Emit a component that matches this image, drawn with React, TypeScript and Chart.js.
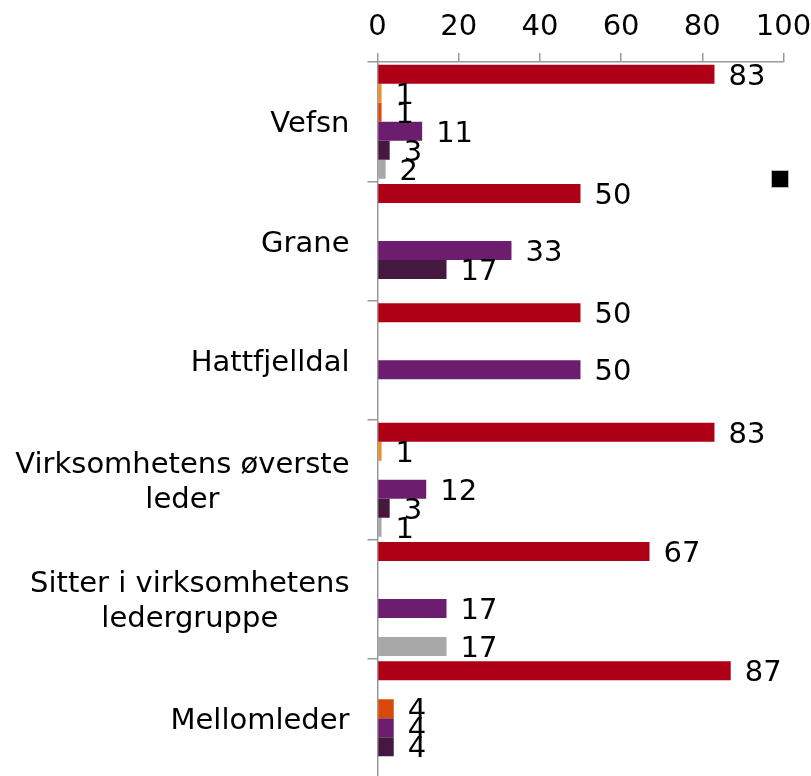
import React, { useEffect, useRef } from "react";
import { Chart, registerables } from "chart.js";

Chart.register(...registerables);

const categories: (string | string[])[] = [
  "Vefsn",
  "Grane",
  "Hattfjelldal",
  ["Virksomhetens øverste", "leder"],
  ["Sitter i virksomhetens", "ledergruppe"],
  "Mellomleder",
];

const seriesRed = [83, 50, 50, 83, 67, 87];
const seriesOrange = [1, null, null, 1, null, null];
const seriesOrangeRed = [1, null, null, null, null, 4];
const seriesPurple = [11, 33, 50, 12, 17, 4];
const seriesDarkPurple = [3, 17, null, 3, null, 4];
const seriesGray = [2, null, null, 1, 17, null];

const seriesColors = ["#AD0016", "#E8902A", "#D84A0C", "#6C1D6E", "#44183F", "#A8A8A8"];
const xTicks = [0, 20, 40, 60, 80, 100];

const FONT = "'DejaVu Sans', Verdana, sans-serif";
const FONT_SIZE = 29;

const labelsPlugin = {
  id: "customLabels",
  afterDatasetsDraw(chart: any) {
    const ctx = chart.ctx;
    ctx.save();
    ctx.font = `${FONT_SIZE}px ${FONT}`;
    ctx.fillStyle = "#000";
    ctx.textBaseline = "middle";
    ctx.textAlign = "left";
    chart.data.datasets.forEach((ds: any, di: number) => {
      const meta = chart.getDatasetMeta(di);
      meta.data.forEach((bar: any, i: number) => {
        const v = ds.data[i];
        if (v === null || v === undefined) return;
        ctx.fillText(String(v), bar.x + 14, bar.y + 3);
      });
    });
    // category labels: block right-aligned, lines centered within block
    const yScale = chart.scales.y;
    const rightEdge = chart.chartArea.left - 28;
    const lineH = 35;
    ctx.fillStyle = "#000";
    categories.forEach((c, i) => {
      const lines = Array.isArray(c) ? c : [c];
      const w = Math.max(...lines.map((l) => ctx.measureText(l).width));
      const cx = rightEdge - w / 2;
      const cy = yScale.getPixelForValue(i) + 3;
      ctx.textAlign = "center";
      lines.forEach((l, li) => {
        const y = cy + (li - (lines.length - 1) / 2) * lineH;
        ctx.fillText(l, cx, y);
      });
    });
    // legend marker
    ctx.fillStyle = "#000";
    ctx.strokeStyle = "#bbb";
    ctx.lineWidth = 1;
    ctx.fillRect(772, 171, 16, 16);
    ctx.strokeRect(771.5, 170.5, 17, 17);
    ctx.restore();
  },
};

export default function App() {
  const ref = useRef<HTMLCanvasElement | null>(null);
  useEffect(() => {
    if (!ref.current) return;
    const series = [seriesRed, seriesOrange, seriesOrangeRed, seriesPurple, seriesDarkPurple, seriesGray];
    const chart = new Chart(ref.current, {
      type: "bar",
      data: {
        labels: categories.map((c) => (Array.isArray(c) ? c.join(" ") : c)),
        datasets: series.map((d, i) => ({
          label: "s" + i,
          data: d,
          backgroundColor: seriesColors[i],
          borderWidth: 0,
          categoryPercentage: 0.955,
          barPercentage: 1,
        })),
      },
      options: {
        indexAxis: "y",
        animation: false,
        responsive: true,
        maintainAspectRatio: false,
        layout: { padding: { left: 0, right: 27.5, top: 0, bottom: 0 } },
        plugins: { legend: { display: false }, tooltip: { enabled: false } },
        scales: {
          x: {
            position: "top",
            min: 0,
            max: 100,
            afterBuildTicks: (scale: any) => {
              scale.ticks = xTicks.map((v) => ({ value: v }));
            },
            afterFit: (scale: any) => {
              scale.height = 62;
              scale.paddingLeft = 0;
              scale.paddingRight = 0;
            },
            ticks: {
              font: { family: FONT, size: FONT_SIZE },
              color: "#000",
              padding: 8,
              maxRotation: 0,
            },
            grid: {
              display: true,
              drawOnChartArea: false,
              drawTicks: true,
              tickLength: 9,
              color: "#999",
              lineWidth: 1.5,
            },
            border: { display: true, color: "#999", width: 1.5 },
          },
          y: {
            afterFit: (scale: any) => {
              scale.width = 377.5;
              scale.paddingTop = 0;
              scale.paddingBottom = 0;
            },
            ticks: { display: false },
            grid: {
              display: true,
              offset: true,
              drawOnChartArea: false,
              drawTicks: true,
              tickLength: 10,
              color: "#999",
              lineWidth: 1.5,
            },
            border: { display: true, color: "#999", width: 1.5 },
          },
        },
      },
      plugins: [labelsPlugin],
    });
    return () => chart.destroy();
  }, []);
  return (
    <div style={{ position: "fixed", left: 0, top: 0, width: 811, height: 776, overflow: "hidden", background: "#fff" }}>
      <div style={{ position: "relative", width: 811, height: 778 }}>
        <canvas ref={ref} />
      </div>
    </div>
  );
}
